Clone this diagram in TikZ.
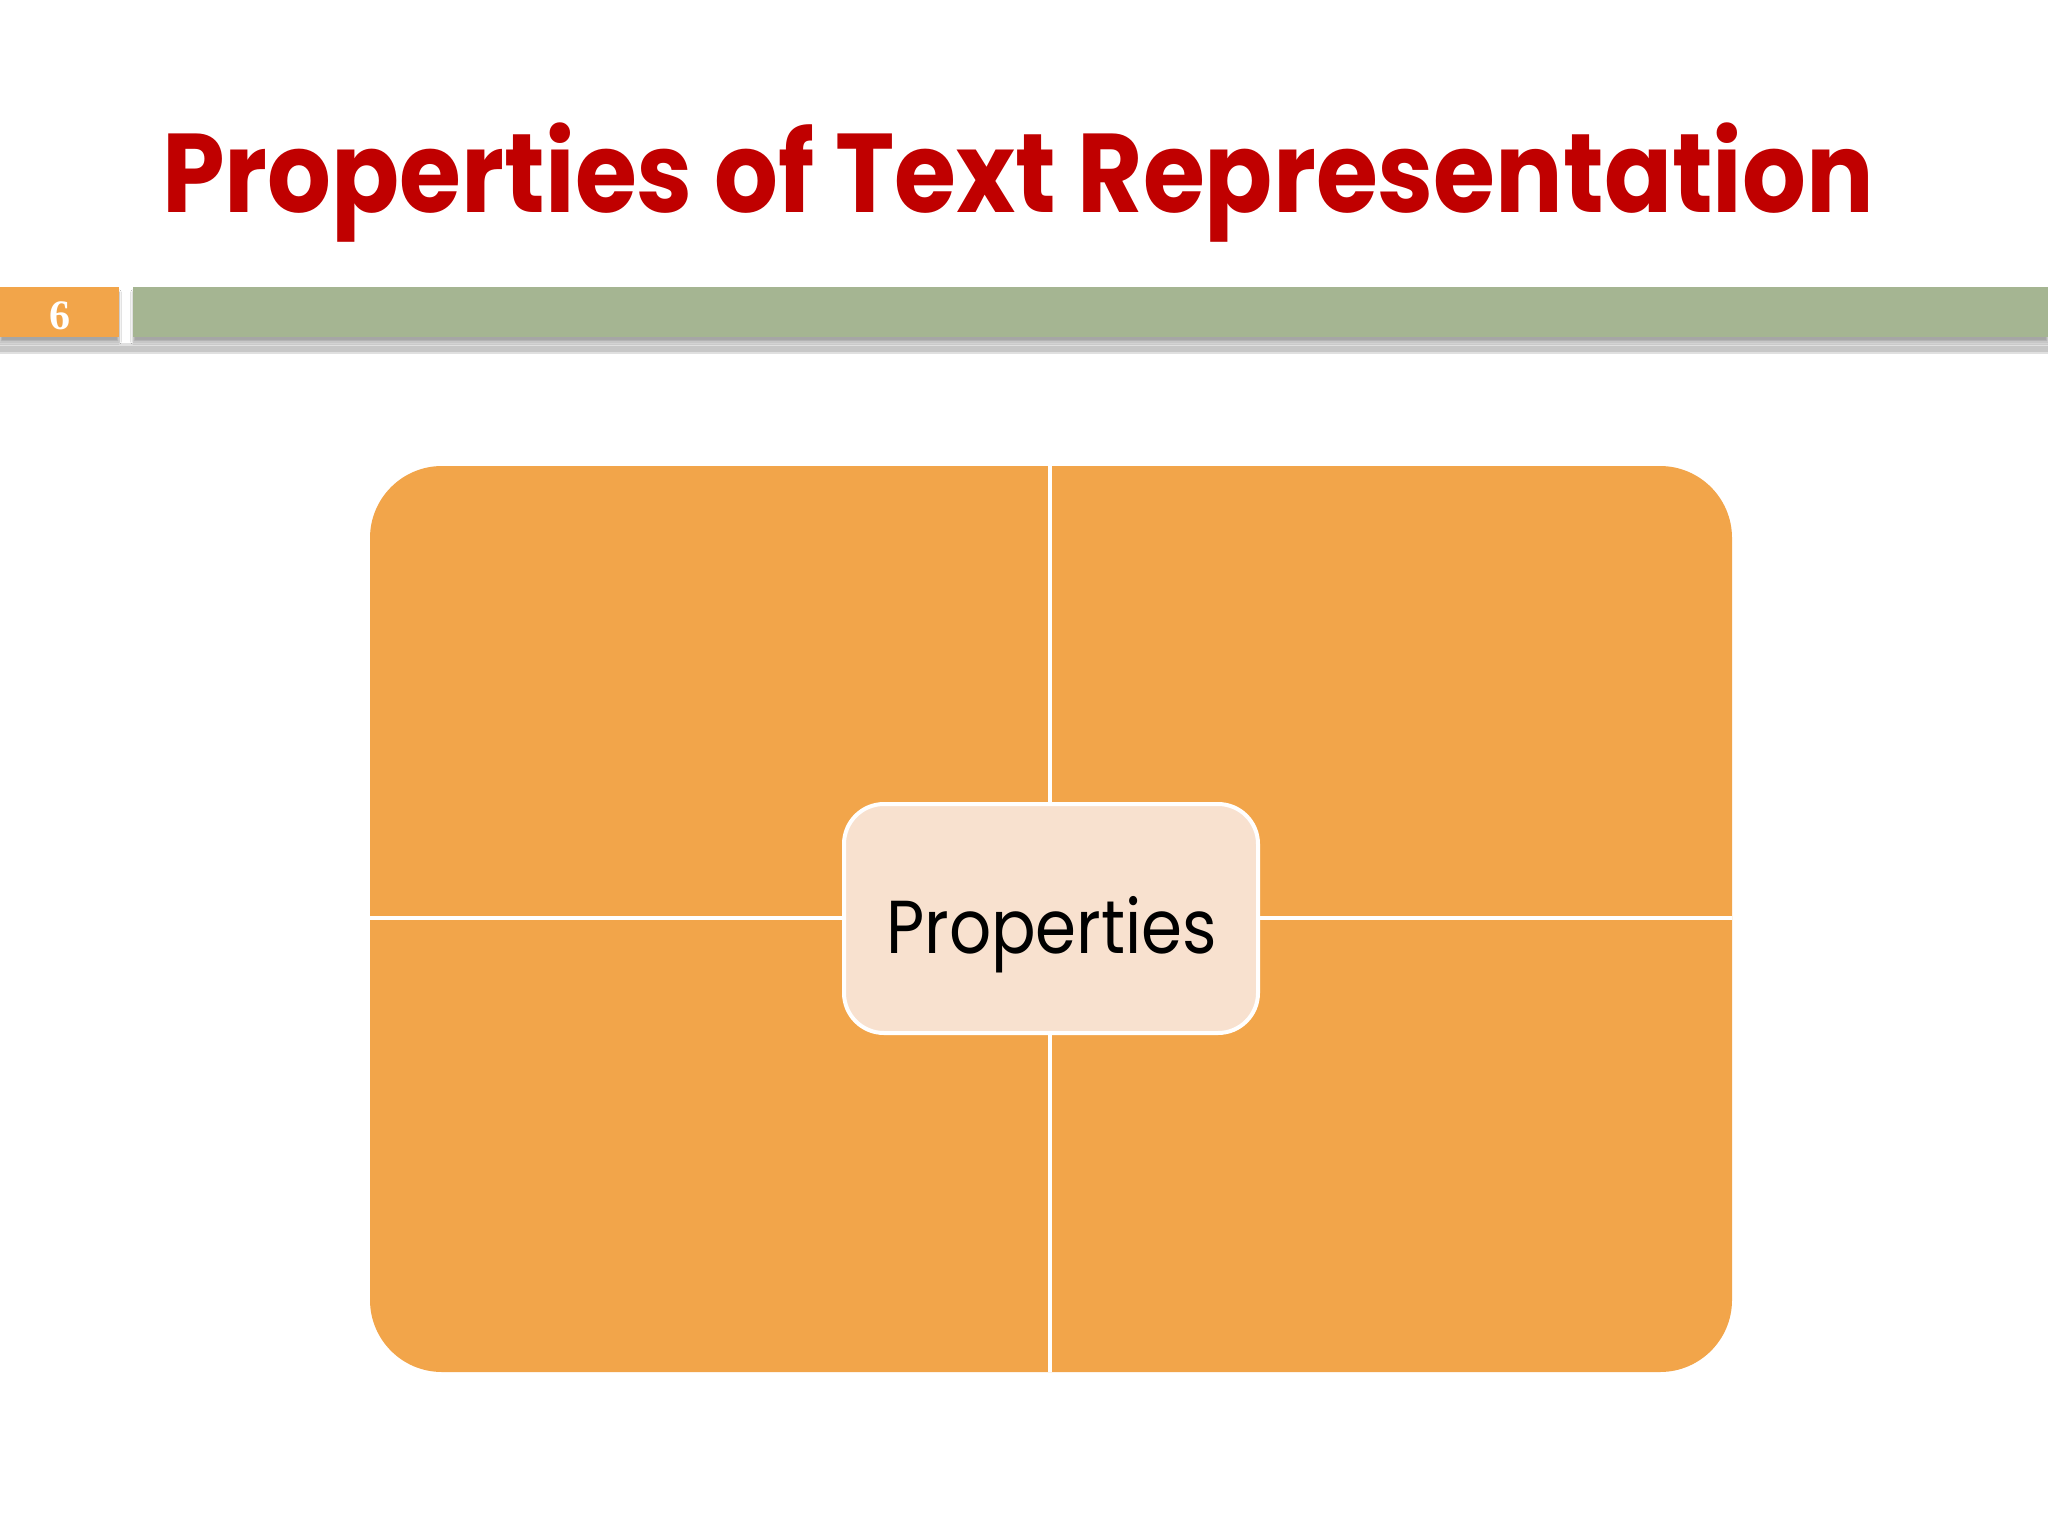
\documentclass[tikz,border=0pt]{standalone}
\usepackage{fontspec}
\usepackage{graphicx}
\setmainfont{Poppins}
\newfontfamily\numfont{Liberation Serif}
\usetikzlibrary{shadows.blur}
\definecolor{titlered}{HTML}{C00000}
\definecolor{orangefill}{HTML}{F2A54A}
\definecolor{greenbar}{HTML}{A5B592}
\definecolor{peach}{HTML}{F8E1CF}
\tikzset{
  barbox/.style={draw=none, inner sep=0pt, blur shadow={shadow xshift=0pt, shadow yshift=-5pt, shadow blur steps=6, shadow opacity=35}},
  divider/.style={white, line width=4.5pt},
}
\begin{document}
\begin{tikzpicture}[x=1pt,y=-1pt]
\useasboundingbox[fill=white] (0,0) rectangle (2048,1536);
% title
\node[anchor=base west, inner sep=0pt, text=titlered, font=\fontsize{112}{130}\selectfont\bfseries] (title) at (162,212) {\resizebox{1712pt}{\height}{Properties of Text Representation}};
% header bar shadow line (soft)
\fill[black!12] (0,343) rectangle (2048,354);
\fill[black!22] (0,345.5) rectangle (2048,351.5);
% number box and green bar
\fill[orangefill, barbox] (0,287) rectangle (119,337);
\node[text=white, font=\numfont\bfseries\fontsize{42}{44}\selectfont, inner sep=0pt] (num) at (60,316) {6};
\fill[greenbar, barbox] (133,287) rectangle (2048,337);
% big quadrant block
\fill[orangefill, rounded corners=72pt] (370,466) rectangle (1732,1372);
\coordinate (top) at (1050,466);
\coordinate (bottom) at (1050,1372);
\coordinate (left) at (370,918);
\coordinate (right) at (1732,918);
\draw[divider] (top) -- (bottom);
\draw[divider] (left) -- (right);
% center node
\node[draw=white, line width=4pt, fill=peach, rounded corners=40pt, minimum width=414pt, minimum height=229pt, inner sep=0pt] (center) at (1051,918.5) {};
\node[anchor=base west, inner sep=0pt, font=\fontsize{75}{90}\selectfont] (centertext) at (886,953) {\resizebox{331pt}{\height}{Properties}};
\end{tikzpicture}
\end{document}
